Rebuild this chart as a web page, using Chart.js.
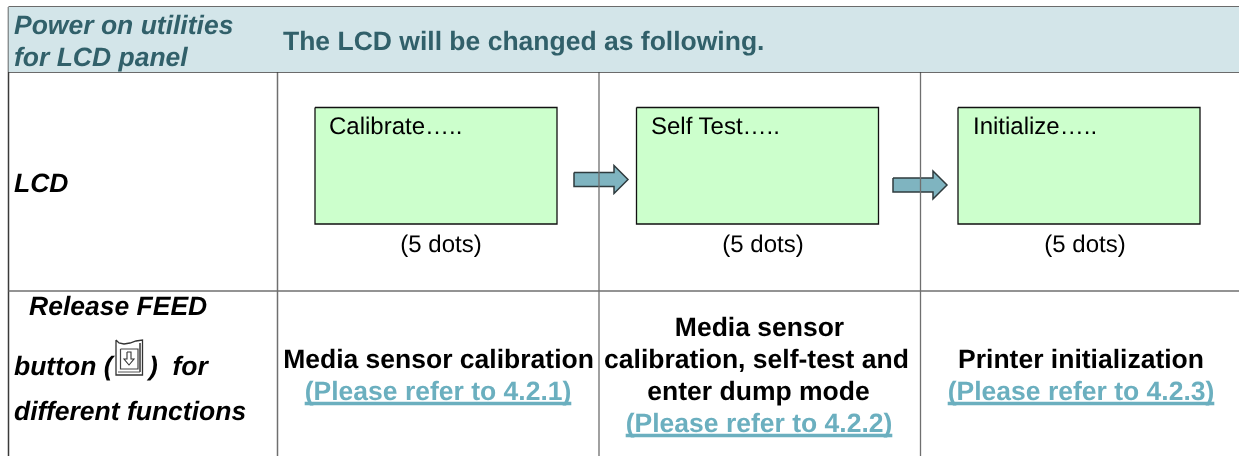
<!DOCTYPE html>
<html>
<head>
<meta charset="utf-8">
<title>Power on utilities for LCD panel</title>
<script src="https://cdn.jsdelivr.net/npm/chart.js@4/dist/chart.umd.min.js"></script>
<style>
    html, body { margin: 0; padding: 0; background: #fff; overflow: hidden; }
    canvas { display: block; }
</style>
</head>
<body>
<canvas id="chart" width="1239" height="456"></canvas>
<script>
'use strict';

// table geometry, in picture units
const columnEdges = [8.5, 277.5, 599, 920.5];
const rowEdges = [7, 72, 291];
const pageRight = 1239;
const pageBottom = 456;

const screenLefts = [315, 636.5, 958];
const screenWidth = 242;
const screenTop = 107.5;
const screenBottom = 224;

const screenLabels = ['Calibrate…..', 'Self Test…..', 'Initialize…..'];
const screenLabelLefts = [329, 651, 973];
const dotsLabel = '(5 dots)';
const dotsCenters = [441, 763, 1085];

const arrowLefts = [574, 893];
const arrowMiddles = [179.5, 185];

const cellTitles = ['Media sensor calibration', 'Printer initialization'];
const cellTitleCenters = [438.5, 1081];
const middleTitle = ['Media sensor', 'calibration, self-test and', 'enter dump mode'];
const middleCenters = [759.5, 756.5, 758.5];
const refLabels = ['(Please refer to 4.2.1)', '(Please refer to 4.2.2)', '(Please refer to 4.2.3)'];
const refCenters = [438, 759, 1081];
const refBaselines = [400, 432, 400];

const HEADER_FILL = '#d3e5e9';
const HEADER_TEXT = '#31606a';
const LINK = '#6bafbf';
const RULE = '#6f6f6f';
const DARK_RULE = '#3a3a3a';

const FONT = '"Liberation Sans", Arial, sans-serif';

function polyline(points, color, width, fill) {
    return {
        data: points.map(p => ({ x: p[0], y: p[1] })),
        showLine: true,
        pointRadius: 0,
        borderColor: color,
        borderWidth: width,
        backgroundColor: fill || 'transparent',
        fill: fill ? 'shape' : false,
        tension: 0,
        clip: false
    };
}

function box(left, top, right, bottom, color, width, fill) {
    return polyline([[left, top], [right, top], [right, bottom], [left, bottom], [left, top]], color, width, fill);
}

function arrow(left, mid) {
    let tip = left + 54;
    let neck = left + 40;
    return polyline([
        [left, mid - 7], [neck, mid - 7], [neck, mid - 14], [tip, mid], [neck, mid + 14], [neck, mid + 7], [left, mid + 7], [left, mid - 7]
    ], '#2f3b3e', 1.5, '#7fb4c0');
}

let datasets = [];

// header band with its rules
datasets.push(box(columnEdges[0], rowEdges[0], pageRight, rowEdges[1], 'transparent', 0, HEADER_FILL));
// small white slips left behind by the text boxes of the header
datasets.push(box(278.5, 24, 281, 56, 'transparent', 0, '#ffffff'));
datasets.push(box(1237.5, 24, pageRight, 56, 'transparent', 0, '#ffffff'));

rowEdges.forEach((y, i) => {
    datasets.push(polyline([[columnEdges[0], y], [pageRight, y]], i === 2 ? RULE : DARK_RULE, i === 2 ? 1.3 : 1.5));
});
datasets.push(polyline([[columnEdges[0], rowEdges[0]], [columnEdges[0], pageBottom]], DARK_RULE, 1.5));
datasets.push(polyline([[columnEdges[1], rowEdges[0]], [columnEdges[1], pageBottom]], RULE, 1.5));
datasets.push(polyline([[columnEdges[2], rowEdges[1]], [columnEdges[2], pageBottom]], RULE, 1.3));
datasets.push(polyline([[columnEdges[3], rowEdges[1]], [columnEdges[3], pageBottom]], RULE, 1.3));

// the three LCD screens and the arrows between them
screenLefts.forEach(left => {
    datasets.push(box(left, screenTop, left + screenWidth, screenBottom, '#111111', 1.3, '#ccffcc'));
});
arrowLefts.forEach((left, i) => datasets.push(arrow(left, arrowMiddles[i])));

// FEED button icon
datasets.push(polyline([[116, 340], [119, 343], [124, 344], [130, 343], [136, 341], [142.5, 340], [142.5, 375], [116, 375], [116, 340]], '#333333', 1.3));
datasets.push(polyline([[140, 343], [140, 372], [118, 372]], '#555555', 1));
datasets.push(box(120.5, 349, 138, 369, '#444444', 1.2));
datasets.push(polyline([[127, 352], [131, 352], [131, 359], [134, 359], [129, 365], [124, 359], [127, 359], [127, 352]], '#333333', 1.1));

const tablePlugin = {
    id: 'tableText',
    afterDatasetsDraw(chart) {
        let ctx = chart.ctx;
        let sx = chart.scales.x;
        let sy = chart.scales.y;

        let put = (text, x, y, font, color, align) => {
            ctx.font = font;
            ctx.fillStyle = color;
            ctx.textAlign = align || 'left';
            ctx.textBaseline = 'alphabetic';
            ctx.fillText(text, sx.getPixelForValue(x), sy.getPixelForValue(y));
        };

        ctx.save();
        ctx.textRendering = 'geometricPrecision';
        let italic = 'italic bold 26.5px ' + FONT;
        let bold = 'bold 26.5px ' + FONT;
        let plain = '24px ' + FONT;

        put('Power on utilities', 14, 34, italic, HEADER_TEXT);
        put('for LCD panel', 14, 66, italic, HEADER_TEXT);
        put('The LCD will be changed as following.', 283, 50, bold, HEADER_TEXT);

        put('LCD', 14, 192, italic, '#000');
        put('Release FEED', 29, 315, italic, '#000');
        put('button (', 14, 375, italic, '#000');
        put(')  for', 149, 375, italic, '#000');
        put('different functions', 14, 420, italic, '#000');

        screenLabels.forEach((label, i) => put(label, screenLabelLefts[i], 134, plain, '#000'));
        dotsCenters.forEach(x => put(dotsLabel, x, 252, plain, '#000', 'center'));

        cellTitles.forEach((title, i) => put(title, cellTitleCenters[i], 368, bold, '#000', 'center'));
        middleTitle.forEach((line, i) => put(line, middleCenters[i], 336 + i * 32, bold, '#000', 'center'));

        refLabels.forEach((label, i) => {
            put(label, refCenters[i], refBaselines[i], bold, LINK, 'center');
            let half = ctx.measureText(label).width / 2;
            let y = sy.getPixelForValue(refBaselines[i] + 3.5);
            ctx.strokeStyle = LINK;
            ctx.lineWidth = 3.5;
            ctx.beginPath();
            ctx.moveTo(sx.getPixelForValue(refCenters[i]) - half, y);
            ctx.lineTo(sx.getPixelForValue(refCenters[i]) + half, y);
            ctx.stroke();
        });
        ctx.restore();
    }
};

new Chart(document.getElementById('chart'), {
    type: 'scatter',
    data: { datasets },
    plugins: [tablePlugin],
    options: {
        responsive: false,
        animation: false,
        events: [],
        layout: { padding: 0 },
        plugins: { legend: { display: false }, tooltip: { enabled: false } },
        scales: {
            x: { type: 'linear', display: false, min: 0, max: pageRight },
            y: { type: 'linear', display: false, min: 0, max: pageBottom, reverse: true }
        }
    }
});
</script>
</body>
</html>
